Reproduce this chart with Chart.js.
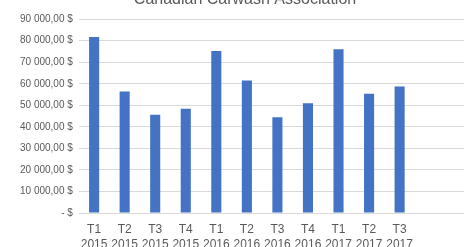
<!DOCTYPE html>
<html>
<head>
<meta charset="utf-8">
<script src="https://cdn.jsdelivr.net/npm/chart.js@4/dist/chart.umd.min.js"></script>
<style>
  html, body { margin: 0; padding: 0; background: #fff; overflow: hidden; }
  #wrap { position: relative; width: 464px; height: 247px; overflow: hidden; }
  #box { position: absolute; left: 0; top: -10px; width: 478px; height: 272px; }
</style>
</head>
<body>
<div id="wrap"><div id="box"><canvas id="c"></canvas></div></div>
<script>
const chartTitle = 'Canadian Carwash Association';
const quarters = [['T1','2015'],['T2','2015'],['T3','2015'],['T4','2015'],['T1','2016'],['T2','2016'],['T3','2016'],['T4','2016'],['T1','2017'],['T2','2017'],['T3','2017'],'',''];
const revenue = [81700, 56400, 45600, 48400, 75200, 61500, 44500, 51000, 76100, 55400, 58700, null, null];
const yMin = 0, yMax = 90000, yStep = 10000;

function fmt(v) {
  if (v === 0) return '- $';
  const s = Math.round(v).toString().replace(/\B(?=(\d{3})+(?!\d))/g, ' ');
  return s + ',00 $';
}

new Chart(document.getElementById('c'), {
  type: 'bar',
  data: {
    labels: quarters,
    datasets: [{
      data: revenue,
      backgroundColor: '#4472C4',
      borderWidth: 0,
      categoryPercentage: 1,
      barPercentage: 0.33
    }]
  },
  options: {
    responsive: true,
    maintainAspectRatio: false,
    animation: false,
    layout: { padding: { left: 14, right: 2, top: 0, bottom: 0 } },
    plugins: {
      legend: { display: false },
      tooltip: { enabled: false },
      title: {
        display: true,
        text: chartTitle,
        color: '#595959',
        font: { family: 'Liberation Sans', size: 16, weight: 'normal' },
        padding: { top: 0, bottom: 10 }
      }
    },
    scales: {
      x: {
        grid: { display: false, drawTicks: false },
        border: { display: false },
        ticks: {
          color: '#595959',
          font: { family: 'Liberation Sans', size: 12, lineHeight: 1.25 },
          maxRotation: 0,
          autoSkip: false,
          padding: 9.5
        }
      },
      y: {
        min: yMin, max: yMax,
        grid: { color: '#d9d9d9', drawTicks: false, lineWidth: 1 },
        border: { display: false },
        ticks: {
          stepSize: yStep,
          color: '#595959',
          font: { family: 'Liberation Sans', size: 10 },
          padding: 6,
          callback: (v) => fmt(v)
        }
      }
    }
  }
});
</script>
</body>
</html>
